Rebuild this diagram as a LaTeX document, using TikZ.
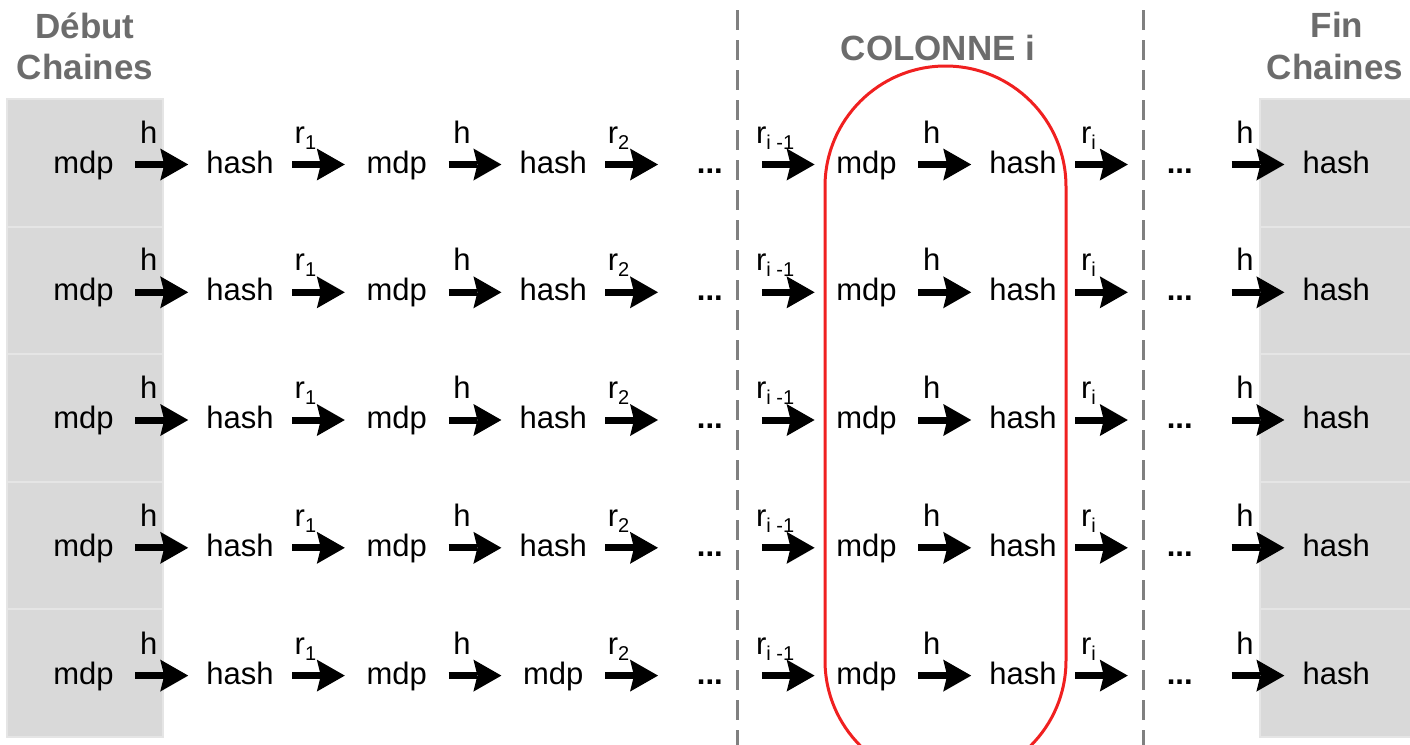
\documentclass[tikz,border=0pt]{standalone}
\usepackage{fontspec}
\setmainfont{Liberation Sans}
\usetikzlibrary{arrows.meta}

\definecolor{cellgray}{RGB}{217,217,217}
\definecolor{celledge}{RGB}{229,229,229}
\definecolor{headgray}{RGB}{108,108,108}
\definecolor{dashgray}{RGB}{128,128,128}
\definecolor{loopred}{RGB}{240,32,32}

% lowered small index, as in r_1 or r_{i -1}
\newcommand{\chsub}[1]{\raisebox{-3pt}{\fontsize{10pt}{11pt}\selectfont #1}}

\begin{document}
\begin{tikzpicture}[x=0.5pt,y=-0.5pt,
  item/.style={minimum width=51.5pt, inner sep=0pt, text height=11.5pt,
    text depth=3pt, font=\fontsize{15.5pt}{18pt}\selectfont},
  dots/.style={item, font=\fontsize{15.5pt}{18pt}\selectfont\bfseries},
  link/.style={line width=3.5pt,
    -{Stealth[length=14pt, width=16pt, inset=2pt, line width=0pt]}},
  lab/.style={anchor=base, inner sep=0pt, yshift=10.75pt, xshift=-6.5pt,
    font=\fontsize{15.5pt}{18pt}\selectfont},
  head/.style={anchor=base, inner sep=0pt, text=headgray,
    font=\fontsize{17.5pt}{20pt}\selectfont\bfseries},
  cell/.style={fill=cellgray, draw=celledge, line width=1pt},
  sep/.style={dashgray, line width=1.5pt, dash pattern=on 10pt off 5pt},
  loop/.style={loopred, line width=1.5pt, rounded corners=60.25pt}
]
\useasboundingbox (0,0) rectangle (1410,745);
\clip (0,0) rectangle (1410,745);

% start and end columns of the table
\foreach \k in {0,...,4} {
  \pgfmathsetmacro{\ya}{99+127.6*\k}
  \pgfmathsetmacro{\yb}{99+127.6*(\k+1)}
  \draw[cell] (7,\ya) rectangle (163,\yb);
  \draw[cell] (1260,\ya) rectangle (1414,\yb);
}

% column separators
\draw[sep] (737,10) -- (737,745);
\draw[sep] (1143,10) -- (1143,745);

% column i outline
\draw[loop] (825,66) rectangle (1066,781);

% headings
\node[head] (deb1) at (85,38) {Début};
\node[head] (deb2) at (85,79) {Chaines};
\node[head] (col)  at (938,60) {COLONNE i};
\node[head] (fin1) at (1337,37) {Fin};
\node[head] (fin2) at (1335,79) {Chaines};

% the chains
\foreach \r/\y/\w in {1/164.5/hash, 2/292.3/hash, 3/420/hash, 4/547.8/hash, 5/675.6/mdp} {
  \node[item] (m\r-0) at (83.5,\y)   {mdp};
  \node[item] (m\r-1) at (240.1,\y)  {hash};
  \node[item] (m\r-2) at (396.7,\y)  {mdp};
  \node[item] (m\r-3) at (553.3,\y)  {\w};
  \node[dots] (m\r-4) at (709.9,\y)  {...};
  \node[item] (m\r-5) at (866.5,\y)  {mdp};
  \node[item] (m\r-6) at (1023.1,\y) {hash};
  \node[dots] (m\r-7) at (1179.7,\y) {...};
  \node[item] (m\r-8) at (1336.3,\y) {hash};

  \draw[link] (m\r-0) -- node[lab] {h} (m\r-1);
  \draw[link] (m\r-1) -- node[lab] {r\chsub{1}} (m\r-2);
  \draw[link] (m\r-2) -- node[lab] {h} (m\r-3);
  \draw[link] (m\r-3) -- node[lab] {r\chsub{2}} (m\r-4);
  \draw[link] (m\r-4) -- node[lab] {r\chsub{i -1}} (m\r-5);
  \draw[link] (m\r-5) -- node[lab] {h} (m\r-6);
  \draw[link] (m\r-6) -- node[lab] {r\chsub{i}} (m\r-7);
  \draw[link] (m\r-7) -- node[lab] {h} (m\r-8);
}
\end{tikzpicture}
\end{document}
